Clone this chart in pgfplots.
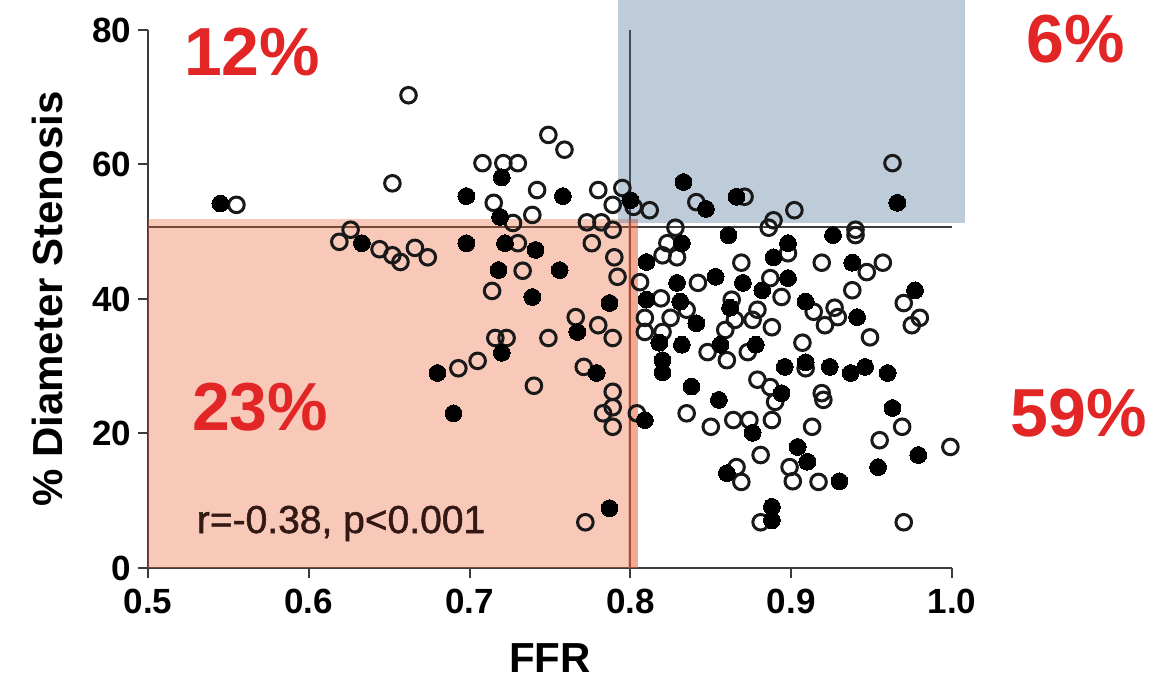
\documentclass[border=0pt]{standalone}
\usepackage{fontspec}
\setmainfont{Liberation Sans}
\usepackage{pgfplots}
\pgfplotsset{compat=1.18}
\definecolor{pctred}{RGB}{226,38,38}
\definecolor{zonered}{RGB}{235,98,55}
\definecolor{zoneblue}{RGB}{69,109,149}
\definecolor{axisgray}{RGB}{60,60,60}
\definecolor{ringcol}{RGB}{25,25,25}

\begin{document}
\begin{tikzpicture}
\path[use as bounding box] (-74pt,-60.5pt) rectangle (504pt,284pt);
\begin{axis}[
  at={(0,0)}, anchor=south west,
  width=402pt, height=269pt, scale only axis,
  xmin=0.5, xmax=1.0, ymin=0, ymax=80,
  enlargelimits=false, clip=false,
  axis lines=left,
  axis line style={-, line width=1pt, axisgray},
  tick align=outside, major tick length=5pt,
  tick style={line width=1pt, axisgray},
  xtick={0.5,0.6,0.7,0.8,0.9,1.0},
  xticklabels={0.5,0.6,0.7,0.8,0.9,1.0},
  ytick={0,20,40,60,80},
  /pgf/number format/assume math mode=true,
  ticklabel style={font=\bfseries\fontsize{17.5}{17.5}\selectfont},
  xticklabel style={yshift=-2pt},
  label style={font=\bfseries\fontsize{21}{24}\selectfont},
  xlabel={FFR},
  ylabel={\% Diameter Stenosis},
  xlabel style={at={(axis description cs:0.5,-0.167)}, anchor=center},
  ylabel style={at={(axis description cs:-0.125,0.5)}, anchor=center},
]
% open circles
\addplot[only marks, mark=o, mark size=3.9pt, mark options={line width=1.5pt, draw=ringcol}] coordinates {
(0.555,54.0) (0.662,70.3) (0.652,57.2) (0.708,60.2) (0.721,60.2) (0.730,60.2)
(0.749,64.4) (0.759,62.2) (0.715,54.3) (0.742,56.2) (0.780,56.2) (0.795,56.5)
(0.789,54.0) (0.802,53.7) (0.812,53.2) (0.739,52.5) (0.727,51.3)
(0.619,48.5) (0.626,50.3) (0.644,47.4) (0.652,46.5) (0.657,45.5) (0.666,47.6) (0.674,46.2)
(0.730,48.3) (0.733,44.2) (0.714,41.2) (0.716,34.2) (0.723,34.2) (0.693,29.7) (0.705,30.8)
(0.749,34.2) (0.740,27.1) (0.771,29.9) (0.780,36.1) (0.789,34.2) (0.766,37.3)
(0.790,46.2) (0.792,43.3) (0.776,48.3) (0.773,51.4) (0.782,51.4) (0.789,50.3)
(0.789,26.2) (0.789,23.9) (0.783,23.0) (0.789,21.0) (0.772,6.8) (0.804,23.0)
(0.963,60.2) (0.902,53.2) (0.841,54.4) (0.871,55.2) (0.889,51.7) (0.886,50.6)
(0.940,50.3) (0.940,49.5) (0.828,50.6) (0.823,48.3) (0.820,46.5) (0.829,46.2)
(0.898,46.8) (0.919,45.4) (0.947,44.0) (0.957,45.4) (0.938,41.3) (0.970,39.4)
(0.980,37.2) (0.975,36.1) (0.894,40.3) (0.914,38.1) (0.927,38.7) (0.929,37.3)
(0.921,36.1) (0.949,34.3) (0.907,33.5) (0.909,29.7) (0.919,26.0) (0.920,25.0)
(0.969,21.0) (0.913,21.0) (0.955,19.0) (0.999,18.0) (0.899,15.0) (0.901,12.9)
(0.917,12.8) (0.970,6.8) (0.881,6.8) (0.806,42.5) (0.842,42.4) (0.869,45.4)
(0.819,40.1) (0.835,38.4) (0.809,37.2) (0.809,35.1) (0.825,37.2) (0.820,35.1)
(0.863,39.9) (0.865,36.9) (0.859,35.4) (0.848,32.1) (0.860,30.9) (0.873,32.1)
(0.876,36.9) (0.879,38.4) (0.887,43.1) (0.888,35.8) (0.879,28.0) (0.887,26.9)
(0.890,24.7) (0.835,23.0) (0.850,21.0) (0.864,22.0) (0.874,22.0) (0.888,22.0)
(0.881,16.8) (0.866,15.0) (0.869,12.8)
};
% filled circles
\addplot[only marks, mark=*, mark size=4.2pt, mark options={fill=black, draw=black, line width=0pt}] coordinates {
(0.545,54.2) (0.720,58.1) (0.698,55.3) (0.758,55.3) (0.719,52.2) (0.633,48.3)
(0.698,48.3) (0.722,48.3) (0.741,47.3) (0.718,44.3) (0.756,44.3) (0.739,40.3)
(0.787,39.4) (0.720,32.0) (0.767,35.1) (0.680,29.0) (0.779,29.0) (0.690,23.0)
(0.787,8.9) (0.800,54.7) (0.833,57.4) (0.847,53.4) (0.866,55.2) (0.966,54.3)
(0.861,49.5) (0.926,49.5) (0.832,48.3) (0.898,48.3) (0.810,45.5) (0.889,46.2)
(0.938,45.4) (0.898,43.1) (0.977,41.3) (0.909,39.6) (0.882,41.3) (0.870,42.4)
(0.853,43.3) (0.829,42.4) (0.810,39.9) (0.831,39.6) (0.841,36.4) (0.862,38.7)
(0.941,37.3) (0.856,33.2) (0.878,33.2) (0.818,33.5) (0.820,30.9) (0.820,29.1)
(0.832,33.2) (0.896,29.9) (0.909,30.6) (0.924,29.9) (0.937,29.0) (0.946,29.9)
(0.960,29.0) (0.894,26.0) (0.838,27.0) (0.855,25.0) (0.963,23.8) (0.809,22.0)
(0.876,20.1) (0.904,18.0) (0.979,16.8) (0.910,15.8) (0.954,15.0) (0.860,14.1)
(0.930,12.9) (0.888,9.1) (0.888,7.1)
};
% cut-off lines
\addplot[line width=1pt, axisgray] coordinates {(0.5,50.7) (1.0,50.7)};
\addplot[line width=1pt, axisgray] coordinates {(0.8,0) (0.8,80)};
% shaded zones
\addplot[draw=none, fill=zonered, fill opacity=0.35] coordinates {(0.5,0) (0.805,0) (0.805,51.9) (0.5,51.9)} -- cycle;
\addplot[draw=none, fill=zonered, fill opacity=0.3] coordinates {(0.7985,0) (0.805,0) (0.805,51.9) (0.7985,51.9)} -- cycle;
\addplot[draw=none, fill=zoneblue, fill opacity=0.35] coordinates {(0.792,51.3) (1.008,51.3) (1.008,84.5) (0.792,84.5)} -- cycle;
% labels
\node[anchor=base west, text=pctred, font=\bfseries\fontsize{34}{34}\selectfont] at (axis cs:0.518,73.3) {12\%};
\node[anchor=base west, text=pctred, font=\bfseries\fontsize{34}{34}\selectfont] at (axis cs:1.042,75.1) {6\%};
\node[anchor=base west, text=pctred, font=\bfseries\fontsize{34}{34}\selectfont] at (axis cs:0.523,20.5) {23\%};
\node[anchor=base west, text=pctred, font=\bfseries\fontsize{34}{34}\selectfont] at (axis cs:1.032,19.5) {59\%};
\node[anchor=base west, text={rgb,255:red,50;green,25;blue,20}, font=\fontsize{19.5}{20}\selectfont\addfontfeature{FakeBold=1.3}] at (axis cs:0.526,5.2) {r=-0.38, p<0.001};
\end{axis}
\end{tikzpicture}
\end{document}
